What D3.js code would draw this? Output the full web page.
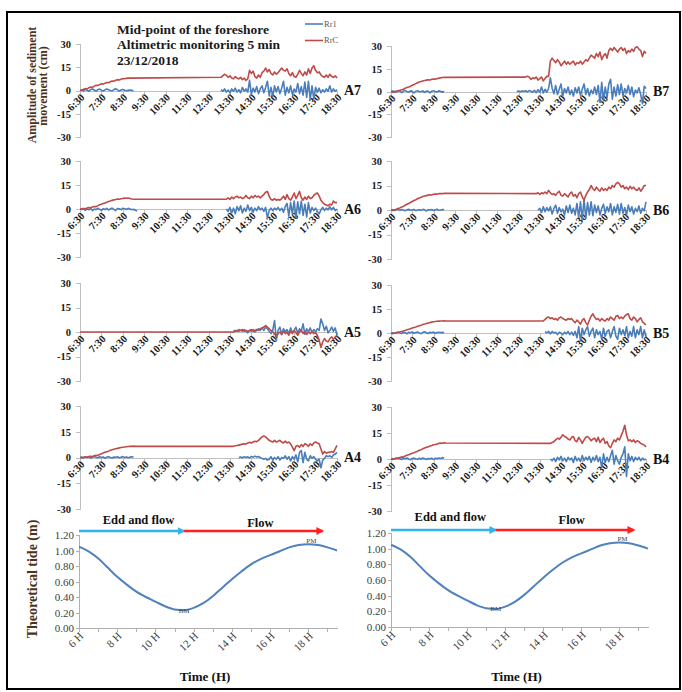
<!DOCTYPE html>
<html>
<head>
<meta charset="utf-8">
<script src="https://cdn.jsdelivr.net/npm/d3@7"></script>
<style>
  body { margin: 0; background: #fff; }
  svg text { font-family: "Liberation Serif", "Times New Roman", serif; }
  .axis path, .axis line { fill: none; stroke: #bfbfbf; shape-rendering: crispEdges; }
  .axis text { fill: #1a1a1a; font-weight: bold; font-size: 10.5px; }
  .taxis path, .taxis line { fill: none; stroke: #b0b0b0; shape-rendering: crispEdges; }
  .taxis text { fill: #404040; font-size: 11px; }
</style>
</head>
<body>
<script>
// ---- data ----
var tickLabels = ["6:30","7:30","8:30","9:30","10:30","11:30","12:30","13:30","14:30","15:30","16:30","17:30","18:30"];
var yTicks = [30, 15, 0, -15, -30];
var seriesNames = ["Rr1", "RrC"];

// start time of [Rr1 early, Rr1 late, RrC early, RrC late], readings every 5 min
var A7_start = ["6:30","13:05","6:30","13:05"];
var A7_Rr1a = [0,0.4,-0.3,0.8,0.2,-0.5,0.6,1,0.3,-0.4,0.5,0.9,0.2,-0.3,0.4,1,0.5,0,-0.2,0.6,1.2,0.4,-0.3,0.3,0.7,0.2,-0.2,0.1,0.3,0.1,0];
var A7_Rr1b = [0.5,-0.5,1,-1,0.3,-1.5,1,-0.5,1.5,-1,0.5,-1.5,2,-0.5,1,-1,6.5,-2.5,1.5,-1,2.5,-2,1,3,-1.5,2,6,-3.5,2,-4,3,-1,2.5,-2,1.5,6,-3,2,-1.5,3,-2.5,1,-1,4.5,-2,2.5,-3,5.5,-4.5,6,-6,3,-5.5,2,-1,1.5,-1.5,0.5,-1,1,-0.5,3,-1,1,-0.5,0.5];
var A7_RrCa = [0,0.2,0.8,1.2,1,1.8,2.2,2,2.8,3.4,3.2,3.8,4.3,4.1,4.7,5.2,5,5.6,6.1,6,6.6,7,6.8,7.3,7.7,7.6,7.9,8,8];
var A7_RrCb = [8.5,9.5,10.5,9.8,8.5,9.5,8,7.5,9,8,7.5,8.5,7,8,6.5,7.5,13,11,12.5,9,8,10,8.5,11.5,12.5,14.5,12,13.5,11,10,12,10.5,11.5,13,14.5,13,12.5,14,11,9.5,11.5,9,8.5,10.5,13,11,9.5,12,10,14,11,14.5,16,13,11.5,12,10,9,8.5,10,8.5,10.5,9,8.5,9.5,8];

var A6_start = ["6:30","13:20","6:30","13:20"];
var A6_Rr1a = [0,-0.3,0.2,-0.8,0.1,-0.5,0.3,-1,0,-0.4,0.5,-0.2,-0.9,0.2,-0.3,0.4,-0.6,0,0.6,-0.2,-1,0.3,0.1,-0.4,0.5,0.2,-0.3,0.4,0,-0.5,-0.2,-0.8,-1.2];
var A6_Rr1b = [0,-1.5,1,-2.5,0.5,-3,1.5,-1,2,-2.5,0.5,-1.5,2.5,-1,1,-2,0.5,-1,1.5,-0.5,0.5,-1.5,1,-5.5,-1,0.5,-1,0.5,-0.5,1,-1,0.5,-2,1.5,3.5,-4.5,4,-3,5,-5.5,4.5,-3,5,-4,3,-5,4,-2.5,1,-1,0.5,-1.5,-3,-0.5,1,-1,0.5,-0.5,1.5,-0.5,1,-1,0];
var A6_RrCa = [0,0.1,0.3,0.2,0.6,0.9,0.8,1.3,1.6,1.5,2.1,2.6,3,3.4,3.8,4.2,4.7,5,5.4,5.7,5.9,6.2,6.1,6.4,6.6,6.8,6.7,6.9,6.6,6.3,6.1];
var A6_RrCb = [6.2,7,6,7.5,6.5,7.5,8,7,7.5,6.5,7,8.5,7,6.5,8,7,8.5,7.5,8,7,8,9,10.5,11,8,6,5.5,6.5,5.5,6,5.5,6.5,8,6,9,6.5,5.5,7.5,10,6.5,8.5,11,7,5.5,7.5,6,8,6.5,7,8.5,9.5,10,8,5.5,4,3,2.5,2,3,2.5,5,4,4];

var A5_start = ["6:30","13:40","6:30","13:40"];
var A5_Rr1a = [];
var A5_Rr1b = [0.5,1,0.5,1.5,1,0.5,1.5,0.5,-0.5,1,0.5,1.5,0,1,2,1,2.5,1,3,2,0.5,-1,1,7,-5,1,3,-1.5,2,0,1.5,-1,2.5,-0.5,1,3,-1,2,0.5,5,-1.5,2,0,2.5,-0.5,1.5,0,2,1,8,5,1,3.5,-0.5,1,3,0.5,2.5,-2];
var A5_RrCa = [0];
var A5_RrCb = [0,0.5,1,0.5,1,1.5,0.5,1,0.5,1,1.5,0.5,1,1.5,1,2,2.5,3,4,3,2,1,0,-1,-3,-1,0,-1.5,0.5,-1,0,-2,0.5,-1,1,-0.5,-2,0,1,-1,0.5,-1.5,0,-1,0.5,-1,-0.5,-2,-5,-9.5,-6,-4,-5.5,-6,-4,-3,-4.5,-3,-2];

var A4_start = ["6:30","13:55","6:30","13:40"];
var A4_Rr1a = [0,0.2,-0.2,0.3,0,0.5,-0.3,0.2,0.6,0.1,-0.2,0.4,0,0.3,-0.4,0.2,0.5,0,-0.3,0.3,0.1,0.4,-0.2,0.2,0.5,0,0.3,-0.1,0.2,0.4,0.3];
var A4_Rr1b = [0,0.3,-0.2,0.5,0,0.4,-0.3,0.6,0.2,0.8,0.3,0.6,0,-0.5,-1,-0.5,-1.5,-1,0.5,-1.5,0,-1,0.5,-1.5,0,-0.5,1,-1,0.5,-2,0.5,-1,1.5,-2.5,3,4,-3,3,-1,-2,1,-0.5,0.5,-1,-2,-1,-6,-1.5,-0.5,1,0.5,1,0,1.5,2,3];
var A4_RrCa = [0,-0.2,0.1,0.3,0.2,0.5,0.7,0.6,1,1.3,1.2,1.8,2.2,2.6,3,3.4,3.7,4.2,4.5,4.8,5.1,5.3,5.6,5.8,6,6.1,6.3,6.4,6.5,6.5,6.6,6.5];
var A4_RrCb = [6.5,6.8,7,7.2,7.5,7.8,8,7.8,8.5,8.8,8.5,9,9.5,9.2,10,11,12,12.5,12,11,10,9.5,9,10,9,9.5,10,9,8.5,9.5,8.5,9,8,6,4,6.5,7,6,7.5,6.5,8,7.5,6.5,8,7,8.5,9,8.5,8,5,2,3.5,2.5,3,3,3.5,3,5,7];

var B7_start = ["6:30","12:25","6:30","12:50"];
var B7_Rr1a = [0,0.3,0.1,-0.4,0.5,0.2,-0.8,0.3,0.6,0,-0.3,0.4,0.1,-1,0.2,0.5,0,-0.2,0.4,-0.6,0.3,0.1,-0.9,0.2,0.5,0,-0.3,0.4,0.2,-0.5,0.2];
var B7_Rr1b = [0,0.3,-0.2,0.4,0,0.5,-0.3,0.6,0.2,-0.5,0.8,-0.8,1.2,-0.5,3,-1,1.5,-0.5,2,9,2,-1.5,4,-2,1.5,5,-3,2,-1,3,-2,1,-3,2.5,-1,3,-2.5,1.5,5,-2,2,-3,1,-1.5,3,-2,4,-7,6,-6,3,-4,5,8,-5,3,-3,4.5,-2,5,-3,2,-1,4,-2,3,-3.5,1,-1,2.5,-2,-8,3.5,2];
var B7_RrCa = [0,-0.5,-0.3,0.2,0.5,0.8,1.2,1.5,2.1,2.6,3,3.5,4.1,4.6,5.2,5.8,6.3,6.6,7,7.2,7.5,7.8,7.6,8,8.2,8.1,8.5,8.8,9,9.2,9.3];
var B7_RrCb = [9.5,10,9.5,8,9,8.5,9.5,7.5,8.5,9.5,7,8.5,10,10,20,22,20.5,19,21,19.5,17,18.5,20,18,19.5,18,19,20,17.5,19,18.5,20,18,19.5,21,20,22,24,23,22,25,23,26,21,23.5,25,22,27,28.5,27,29,27.5,26,28,29,27,28.5,25,27,26,28,26.5,29,29.5,28,27,23,26.5,25];

var B6_start = ["6:30","13:25","6:30","13:20"];
var B6_Rr1a = [0,0.2,-0.3,0.1,0.4,-0.2,0.3,0,-0.5,0.2,0.4,-0.1,0.1,0.3,-0.4,0,0.2,-0.2,0.4,0.1,-0.6,0.2,0,0.3,-0.3,0.1,0.5,-0.2,0,0.3,0.1];
var B6_Rr1b = [0,1,-1.5,2,-1,1.5,-0.5,2,-2.5,1,3,-2,1.5,-1,0.5,-3,2.5,-1.5,3,-2,1,-3,4,-4.5,5,-6,6.5,-5,4.5,-3,5,-3.5,3,-1.5,2.5,-3,1,3.5,-2,2,-1,4,-3,2,-1.5,3.5,-2.5,4,-2,1.5,-3,3,-1,2,-2.5,1,-1,2.5,-2,1,-0.5,5];
var B6_RrCa = [0,-0.3,0.2,0.5,0.9,1.3,1.8,2.2,2.9,3.5,4,4.6,5.2,5.8,6.3,6.9,7.4,7.8,8.3,8.6,8.8,9.1,9.3,9.2,9.6,9.8,9.7,10,10.1,10,10.2];
var B6_RrCb = [10,10.5,9.5,10.5,10,11,10,12,10.5,9.5,10,9,10.5,11.5,9,8.5,10,9,8,10,11,8.5,9.5,7.5,10,11,8,6,9,11,12.5,15,13,12,14,12.5,11.5,13.5,12,13,12,14,13,15,14,16,17,16,14,15,13,14,12.5,14.5,13,14,12.5,12,13.5,11.5,13,15,15];

var B5_start = ["6:30","13:45","6:30","13:40"];
var B5_Rr1a = [0,0.1,-0.2,0.3,0.6,0,-0.3,0.4,0.2,-0.5,0.5,0.1,0.7,-0.2,0.3,0.6,0,-0.4,0.4,0.8,0.2,-0.3,0.5,0.1,0.6,-0.2,0.3,0.5,0.1,0.4,0.2];
var B5_Rr1b = [1,0,1,-0.5,1,0,0.5,-1,0.5,0,-1,0.5,-0.5,1,-1,0.5,-1.5,1,-3,4,-5,3,-1,2,4,-2,1,3,-3,2,-1,1,-4,3,-2,1,2,-3,1,4,-2,-4,3,-1,2,-1.5,4,-3,1,-2,4,-3,2,-1,4,-3,2,-2.5];
var B5_RrCa = [0,-0.4,-0.2,0.1,0.3,0.6,0.9,1.3,1.6,2,2.3,2.7,3.1,3.5,3.8,4.2,4.6,4.9,5.3,5.6,6,6.3,6.5,6.8,7,7.2,7.3,7.4,7.5,7.5,7.6,7.5];
var B5_RrCb = [7.5,8.5,9.5,10,9,9.5,8.5,9,8,9.5,10,9,8.5,8,9,8.5,9,7.5,6.5,8,7,5.5,8,9,6.5,5,8,10.5,12,10,8.5,9,7.5,9,8,7.5,9,8,10,9,8,10.5,11,9,10,9,10.5,11.5,12,9,8,10,9,7,8.5,9.5,7,6,5];

var B4_start = ["6:30","14:00","6:30","14:00"];
var B4_Rr1a = [0,0.2,-0.1,0.3,0.5,0.1,-0.3,0.4,0.2,0.6,0,-0.4,0.3,0.5,0.1,-0.2,0.4,0,0.6,0.2,-0.3,0.3,0.1,0.5,-0.2,0.4,0.2,0.6,0.3,0.8,0.5];
var B4_Rr1b = [0,-1,0.5,-1.5,1,-0.5,1.5,-1,0.5,-1.5,1,-0.5,0.5,-2,1.5,-1,0.5,-1.5,2,-1,1,-0.5,1.5,-2,1,-1,2,-1.5,1,-5,3,-2,1,-1.5,2,5,-3,2,-1,-3,1,3,7,-10,3,-1,1.5,-1.5,1,-0.5,1,-1,0.5,-0.5,0];
var B4_RrCa = [0,-0.3,0.2,0.5,0.4,0.9,1.2,1.1,1.7,2.1,2.5,2.9,3.3,3.6,4.1,4.5,5,5.4,5.9,6.4,6.8,7,7.5,7.8,8.2,8.4,8.7,9,9.2,9.1,9.3,9.2];
var B4_RrCb = [9,9.5,10,11,12,11.5,12.5,14,13,12.5,11.5,11,12.5,13,10.5,10,12.5,11,9,11,12.5,13,12,10.5,11.5,12,10,12.5,9.5,11,12,9,10,7.5,6.5,9,11,10,12,11,13.5,16,19.5,14,10.5,11,10,11,9.5,10.5,10,9,8.5,8,7];

// theoretical tide (m)
var tideHours = [6,6.5,7,7.5,8,8.5,9,9.5,10,10.5,11,11.5,12,12.5,13,13.5,14,14.5,15,15.5,16,16.5,17,17.5,18,18.5,19,19.5];
var tideLevel = [1.05,0.99,0.90,0.78,0.66,0.56,0.47,0.40,0.34,0.28,0.24,0.23,0.26,0.32,0.41,0.52,0.63,0.73,0.82,0.89,0.94,0.99,1.04,1.07,1.08,1.07,1.04,1.00];
var tideTicks = [0,0.2,0.4,0.6,0.8,1.0,1.2];
var tideHourTicks = [6,7,8,9,10,11,12,13,14,15,16,17,18,19];
var tidePhases = ["Edd and flow", "Flow"];
var tidePhaseSplit = 11.5;
var tidePhaseEnd = 18.75;

// ---- drawing ----
var W = 682, H = 692;
var blue = "#4a7ebb", red = "#be4b48";
var serif = "Liberation Serif, Times New Roman, serif";
var step = 5 / 60;

function toHour(s) { var p = s.split(":"); return +p[0] + (+p[1]) / 60; }
var hourTicks = tickLabels.map(toHour);

var svg = d3.select("body").append("svg").attr("width", W).attr("height", H);

svg.append("rect").attr("x", 7).attr("y", 12).attr("width", 673).attr("height", 677)
  .attr("fill", "none").attr("stroke", "#000").attr("stroke-width", 2);

var panels = [
  ["A7", A7_start, A7_Rr1a, A7_Rr1b, A7_RrCa, A7_RrCb],
  ["B7", B7_start, B7_Rr1a, B7_Rr1b, B7_RrCa, B7_RrCb],
  ["A6", A6_start, A6_Rr1a, A6_Rr1b, A6_RrCa, A6_RrCb],
  ["B6", B6_start, B6_Rr1a, B6_Rr1b, B6_RrCa, B6_RrCb],
  ["A5", A5_start, A5_Rr1a, A5_Rr1b, A5_RrCa, A5_RrCb],
  ["B5", B5_start, B5_Rr1a, B5_Rr1b, B5_RrCa, B5_RrCb],
  ["A4", A4_start, A4_Rr1a, A4_Rr1b, A4_RrCa, A4_RrCb],
  ["B4", B4_start, B4_Rr1a, B4_Rr1b, B4_RrCa, B4_RrCb]
];

var colX = [[80, 337], [391, 646]];
var rowY = [
  [[44, 137], [161, 257], [283, 381], [406, 509]],
  [[46, 137], [161, 259], [285, 381], [407, 511]]
];

function pts(vals, start) {
  var t0 = toHour(start);
  return vals.map(function(v, i) { return [t0 + i * step, v]; });
}

panels.forEach(function(p, k) {
  var col = k % 2, row = Math.floor(k / 2);
  var x = d3.scaleLinear().domain([hourTicks[0], hourTicks[hourTicks.length - 1]]).range(colX[col]);
  var y = d3.scaleLinear().domain([30, -30]).range(rowY[col][row]);
  var g = svg.append("g");

  g.append("g").attr("class", "axis")
    .attr("transform", "translate(" + colX[col][0] + ",0)")
    .call(d3.axisLeft(y).tickValues(yTicks).tickSize(4).tickPadding(5)
      .tickFormat(function(d) { return String(d); }))
    .attr("font-family", serif);

  var xa = g.append("g").attr("class", "axis")
    .attr("transform", "translate(0," + y(0) + ")")
    .call(d3.axisBottom(x).tickValues(hourTicks).tickSize(4).tickSizeOuter(0)
      .tickFormat(function(d, i) { return tickLabels[i]; }))
    .attr("font-family", serif);
  xa.selectAll("text")
    .attr("x", 0).attr("y", 0).attr("dy", "0.35em")
    .attr("text-anchor", "end")
    .attr("transform", "translate(2,5) rotate(-45)");

  var line = d3.line().x(function(d) { return x(d[0]); }).y(function(d) { return y(d[1]); });
  var st = p[1];

  [pts(p[2], st[0]), pts(p[3], st[1])].forEach(function(seg) {
    if (seg.length) g.append("path").attr("d", line(seg)).attr("fill", "none")
      .attr("stroke", blue).attr("stroke-width", 1.6).attr("stroke-linejoin", "round");
  });
  g.append("path").attr("d", line(pts(p[4], st[2]).concat(pts(p[5], st[3]))))
    .attr("fill", "none").attr("stroke", red).attr("stroke-width", 1.6).attr("stroke-linejoin", "round");

  g.append("text").attr("x", colX[col][1] + 7).attr("y", y(0)).attr("dy", "0.35em")
    .attr("font-size", "14px").attr("font-weight", "bold").attr("fill", "#111").text(p[0]);
});

// title and legend
var title = ["Mid-point of the foreshore", "Altimetric monitoring 5 min", "23/12/2018"];
svg.append("g").selectAll("text").data(title).join("text")
  .attr("x", 117).attr("y", function(d, i) { return 33.5 + i * 15.5; })
  .attr("font-size", "13.5px").attr("font-weight", "bold").attr("fill", "#1a1a1a")
  .text(function(d) { return d; });

var leg = svg.append("g").selectAll("g").data(seriesNames).join("g")
  .attr("transform", function(d, i) { return "translate(305," + (24 + i * 16.5) + ")"; });
leg.append("line").attr("x1", 0).attr("x2", 18).attr("y1", 0).attr("y2", 0)
  .attr("stroke", function(d, i) { return i ? red : blue; }).attr("stroke-width", 1.6);
leg.append("text").attr("x", 19).attr("dy", "0.35em").attr("font-size", "8.5px").attr("fill", "#595959")
  .text(function(d) { return d; });

svg.append("text").attr("transform", "translate(36,85) rotate(-90)").attr("text-anchor", "middle")
  .attr("font-size", "12px").attr("font-weight", "bold").attr("fill", "#4d3319")
  .text("Amplitude of sediment");
svg.append("text").attr("transform", "translate(46.5,86) rotate(-90)").attr("text-anchor", "middle")
  .attr("font-size", "12px").attr("font-weight", "bold").attr("fill", "#4d3319")
  .text("movement (cm)");

// tide charts
var defs = svg.append("defs");
[["arrBlue", "#33b3ee"], ["arrRed", "#ff1f1f"]].forEach(function(m) {
  defs.append("marker").attr("id", m[0]).attr("viewBox", "0 0 10 10").attr("refX", 8).attr("refY", 5)
    .attr("markerWidth", 3).attr("markerHeight", 3).attr("orient", "auto")
    .append("path").attr("d", "M0,0 L10,5 L0,10 Z").attr("fill", m[1]);
});

var tideX = [[79, 337], [391, 648]];
var tideY = [[628, 535], [627, 533]];
var arrowY = [531, 530];
var phaseTextY = [[524, 527], [521, 524]];

tideX.forEach(function(xr, c) {
  var x = d3.scaleLinear().domain([tideHours[0], tideHours[tideHours.length - 1]]).range(xr);
  var y = d3.scaleLinear().domain([0, 1.2]).range(tideY[c]);
  var g = svg.append("g");

  g.append("g").attr("class", "taxis").attr("transform", "translate(" + xr[0] + ",0)")
    .call(d3.axisLeft(y).tickValues(tideTicks).tickSize(3).tickPadding(2).tickFormat(d3.format(".2f")))
    .attr("font-family", serif);

  var xa = g.append("g").attr("class", "taxis").attr("transform", "translate(0," + y(0) + ")")
    .call(d3.axisBottom(x).tickValues(tideHourTicks).tickSize(4).tickSizeOuter(0)
      .tickFormat(function(d) { return d % 2 === 0 ? d + " H" : ""; }))
    .attr("font-family", serif);
  xa.selectAll("text")
    .attr("x", 0).attr("y", 0).attr("dy", "0.35em")
    .attr("text-anchor", "end")
    .attr("transform", "translate(2,6) rotate(-45)");

  var tide = tideHours.map(function(h, i) { return [h, tideLevel[i]]; });
  g.append("path")
    .attr("d", d3.line().curve(d3.curveMonotoneX)
      .x(function(d) { return x(d[0]); }).y(function(d) { return y(d[1]); })(tide))
    .attr("fill", "none").attr("stroke", "#4f81bd").attr("stroke-width", 2);

  var lo = tide[d3.minIndex(tide, function(d) { return d[1]; })];
  var hi = tide[d3.maxIndex(tide, function(d) { return d[1]; })];
  g.append("text").attr("x", x(lo[0])).attr("y", y(lo[1]) + 2.5).attr("text-anchor", "middle")
    .attr("font-size", "7px").attr("fill", "#444").text("BM");
  g.append("text").attr("x", x(hi[0]) + 3).attr("y", y(hi[1]) - 1.5).attr("text-anchor", "middle")
    .attr("font-size", "7px").attr("fill", "#444").text("PM");

  // phase arrows
  var ay = arrowY[c];
  g.append("line").attr("x1", x(tideHours[0])).attr("x2", x(tidePhaseSplit)).attr("y1", ay).attr("y2", ay)
    .attr("stroke", "#33b3ee").attr("stroke-width", 2.6).attr("marker-end", "url(#arrBlue)");
  g.append("line").attr("x1", x(tidePhaseSplit)).attr("x2", x(tidePhaseEnd)).attr("y1", ay).attr("y2", ay)
    .attr("stroke", "#ff1f1f").attr("stroke-width", 2.6).attr("marker-end", "url(#arrRed)");

  g.append("text").attr("x", (x(tideHours[0]) + x(tidePhaseSplit)) / 2 + 7).attr("y", phaseTextY[c][0])
    .attr("text-anchor", "middle").attr("font-size", "12.5px").attr("font-weight", "bold").attr("fill", "#111")
    .text(tidePhases[0]);
  g.append("text").attr("x", (x(tidePhaseSplit) + x(tidePhaseEnd)) / 2 + 7).attr("y", phaseTextY[c][1])
    .attr("text-anchor", "middle").attr("font-size", "12.5px").attr("font-weight", "bold").attr("fill", "#111")
    .text(tidePhases[1]);

  g.append("text").attr("x", (xr[0] + xr[1]) / 2 - 3).attr("y", 681).attr("text-anchor", "middle")
    .attr("font-size", "13px").attr("font-weight", "bold").attr("fill", "#111").text("Time (H)");
});

svg.append("text").attr("transform", "translate(37,579) rotate(-90)").attr("text-anchor", "middle")
  .attr("font-size", "14px").attr("font-weight", "bold").attr("fill", "#4d3319")
  .text("Theoretical tide (m)");
</script>
</body>
</html>
